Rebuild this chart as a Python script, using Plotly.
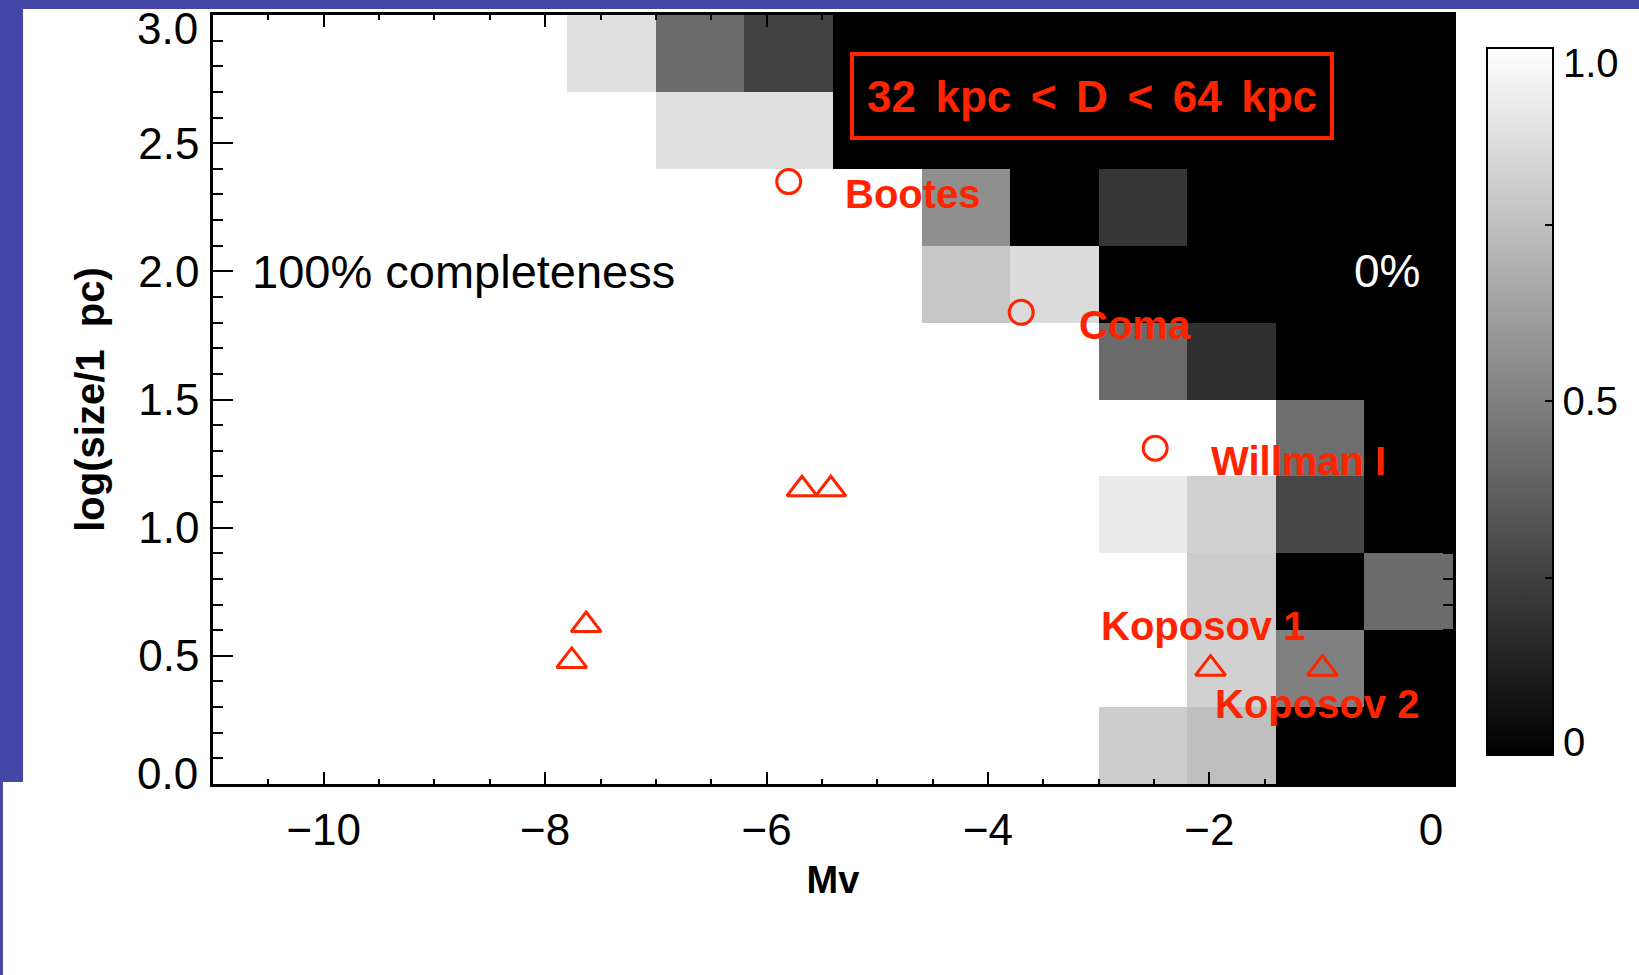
import plotly.graph_objects as go

# Bin edges of the completeness map
mv_edges = [-11.0, -10.2, -9.4, -8.6, -7.8, -7.0, -6.2, -5.4, -4.6, -3.8, -3.0, -2.2, -1.4, -0.6, 0.2]
logsize_edges = [0.0, 0.3, 0.6, 0.9, 1.2, 1.5, 1.8, 2.1, 2.4, 2.7, 3.0]

# Detection completeness per (log size, Mv) bin, bottom row first
completeness = [
    [1, 1, 1, 1, 1, 1, 1, 1, 1, 1, 0.80, 0.75, 0.00, 0.00],
    [1, 1, 1, 1, 1, 1, 1, 1, 1, 1, 1.00, 0.82, 0.50, 0.00],
    [1, 1, 1, 1, 1, 1, 1, 1, 1, 1, 1.00, 0.80, 0.00, 0.42],
    [1, 1, 1, 1, 1, 1, 1, 1, 1, 1, 0.92, 0.82, 0.28, 0.00],
    [1, 1, 1, 1, 1, 1, 1, 1, 1, 1, 1.00, 1.00, 0.43, 0.00],
    [1, 1, 1, 1, 1, 1, 1, 1, 1, 1, 0.42, 0.19, 0.00, 0.00],
    [1, 1, 1, 1, 1, 1, 1, 1, 0.78, 0.86, 0.00, 0.00, 0.00, 0.00],
    [1, 1, 1, 1, 1, 1, 1, 1, 0.56, 0.00, 0.21, 0.00, 0.00, 0.00],
    [1, 1, 1, 1, 1, 0.88, 0.88, 0.00, 0.00, 0.00, 0.00, 0.00, 0.00, 0.00],
    [1, 1, 1, 1, 0.88, 0.42, 0.26, 0.00, 0.00, 0.00, 0.00, 0.00, 0.00, 0.00],
]

# New satellites (circles) and globular clusters (triangles)
sat_names = ["Bootes", "Coma", "Willman I"]
sat_mv = [-5.80, -3.70, -2.49]
sat_logsize = [2.35, 1.84, 1.31]

gc_mv = [-7.63, -7.76, -5.68, -5.42, -1.99, -0.98, -7.00]
gc_logsize = [0.62, 0.48, 1.15, 1.15, 0.45, 0.45, 3.03]

# Object labels
label_names = ["Bootes", "Coma", "Willman I", "Koposov 1", "Koposov 2"]
label_mv = [-5.31, -3.20, -2.00, -3.00, -1.97]
label_logsize = [2.30, 1.79, 1.26, 0.616, 0.312]

x_ticks = [-10, -8, -6, -4, -2, 0]
y_ticks = [0.0, 0.5, 1.0, 1.5, 2.0, 2.5, 3.0]
y_ticktext = ["0.0", "0.5", "1.0", "1.5", "2.0", "2.5", "3.0"]
cbar_ticks = [0, 0.25, 0.5, 0.75, 1.0]
cbar_ticktext = ["0", "", "0.5", "", "1.0"]

RED = "#ff2400"
BLUE = "#4547a7"
FONT = "Liberation Sans, Arial, sans-serif"

# End labels of the y axis and colour bar are set slightly inside the frame
edge_y_labels = {y_ticktext[0]: 0.0137, y_ticktext[-1]: 0.983}
edge_cbar_labels = {cbar_ticktext[0]: 0.0545, cbar_ticktext[-1]: 0.9376}
axis_ticktext = ["" if t in edge_y_labels else t for t in y_ticktext]
cbar_axis_ticktext = ["" if t in edge_cbar_labels else t for t in cbar_ticktext]

fig = go.Figure()

fig.add_trace(go.Heatmap(
    x=mv_edges, y=logsize_edges, z=completeness,
    zmin=0, zmax=1,
    colorscale=[[0, "#000000"], [1, "#ffffff"]],
    colorbar=dict(
        x=1.0274, xanchor="left", xpad=0,
        y=0.4974, yanchor="middle", ypad=0,
        thickness=66, len=707, lenmode="pixels",
        outlinecolor="black", outlinewidth=2,
        tickvals=cbar_ticks, ticktext=cbar_axis_ticktext,
        ticks="inside", ticklen=9, tickwidth=2, tickcolor="black",
        tickfont=dict(family=FONT, size=40, color="black"),
    ),
    hoverinfo="skip",
))

fig.add_trace(go.Scatter(
    x=sat_mv, y=sat_logsize, mode="markers",
    marker=dict(symbol="circle-open", size=24, color=RED, line=dict(width=3, color=RED)),
    showlegend=False,
))

fig.add_trace(go.Scatter(
    x=gc_mv, y=gc_logsize, mode="markers", cliponaxis=False,
    marker=dict(symbol="triangle-up-open", size=26, color=RED, line=dict(width=3, color=RED)),
    showlegend=False,
))

annotations = []
for name, mx, my in zip(label_names, label_mv, label_logsize):
    annotations.append(dict(
        x=mx, y=my, xref="x", yref="y", text="<b>" + name + "</b>",
        showarrow=False, xanchor="left", yanchor="middle",
        font=dict(family=FONT, size=40, color=RED),
    ))

annotations.append(dict(
    x=-3.062, y=2.683, xref="x", yref="y",
    text="<b>32\u2006 kpc\u2006 &lt;\u2006 D\u2006 &lt;\u2006 64\u2006 kpc</b>",
    showarrow=False, xanchor="center", yanchor="middle",
    font=dict(family=FONT, size=44, color=RED),
    bordercolor=RED, borderwidth=4, borderpad=8,
    width=460, height=64, align="center",
))
annotations.append(dict(
    x=-10.67, y=2.0, xref="x", yref="y", text="100% completeness",
    showarrow=False, xanchor="left", yanchor="middle",
    font=dict(family=FONT, size=47, color="black"),
))
annotations.append(dict(
    x=-0.716, y=2.0, xref="x", yref="y", text="0%",
    showarrow=False, xanchor="left", yanchor="middle",
    font=dict(family=FONT, size=46, color="white"),
))
for text, ypos in edge_y_labels.items():
    annotations.append(dict(
        x=-0.0105, y=ypos, xref="paper", yref="paper", text=text,
        showarrow=False, xanchor="right", yanchor="middle",
        font=dict(family=FONT, size=44, color="black"),
    ))
for text, ypos in edge_cbar_labels.items():
    annotations.append(dict(
        x=1.0871, y=ypos, xref="paper", yref="paper", text=text,
        showarrow=False, xanchor="left", yanchor="middle",
        font=dict(family=FONT, size=40, color="black"),
    ))

# Slide background strips around the chart
shapes = [
    dict(type="rect", xref="paper", yref="paper", x0=-0.2, x1=1.2, y0=1.0078, y1=1.06,
         fillcolor=BLUE, line=dict(width=0), layer="above"),
    dict(type="rect", xref="paper", yref="paper", x0=-0.2, x1=-0.1532, y0=0.0026, y1=1.06,
         fillcolor=BLUE, line=dict(width=0), layer="above"),
    dict(type="rect", xref="paper", yref="paper", x0=-0.2, x1=-0.1694, y0=-0.3, y1=1.06,
         fillcolor=BLUE, line=dict(width=0), layer="above"),
]

axis_common = dict(
    showgrid=False, zeroline=False, showline=True, linecolor="black", linewidth=2.5,
    mirror="ticks", ticks="inside", tickcolor="black", tickwidth=2,
    tickfont=dict(family=FONT, size=44, color="black"),
    ticklabeloverflow="allow", automargin=False,
)

fig.update_layout(
    width=1639, height=975,
    margin=dict(l=213, r=186, t=15, b=191, autoexpand=False),
    paper_bgcolor="white", plot_bgcolor="white",
    showlegend=False,
    annotations=annotations,
    shapes=shapes,
    xaxis=dict(
        range=[-11.0, 0.2], tickvals=x_ticks, ticklen=12,
        minor=dict(dtick=0.5, tick0=0, ticklen=5, tickwidth=2, tickcolor="black", ticks="inside"),
        title=dict(text="<b>Mv</b>", font=dict(family=FONT, size=38, color="black"), standoff=14),
        ticklabelstandoff=5,
        **axis_common,
    ),
    yaxis=dict(
        range=[0.0, 3.0], tickvals=y_ticks, ticktext=axis_ticktext, ticklen=20,
        minor=dict(dtick=0.1, tick0=0, ticklen=10, tickwidth=2, tickcolor="black", ticks="inside"),
        title=dict(text="<b>log(size/1\u00a0\u00a0pc)</b>", font=dict(family=FONT, size=40, color="black"), standoff=22),
        ticklabelstandoff=2,
        **axis_common,
    ),
)

fig.write_html("out.html")
